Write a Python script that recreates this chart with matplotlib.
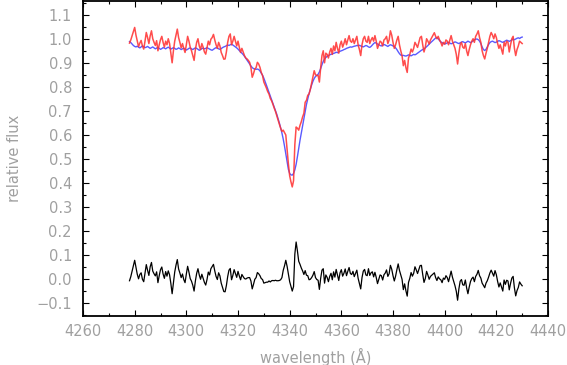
import numpy as np
import matplotlib
matplotlib.use("Agg")
import matplotlib.pyplot as plt
from matplotlib.ticker import MultipleLocator

# wavelength grid (Angstrom), 0.5 A sampling from 4278 to 4430
wave_start = 4278.0
wave_step = 0.5

# model spectrum (blue)
model_flux = [
    0.988, 0.984, 0.978, 0.972,
    0.968, 0.966, 0.969, 0.965, 0.962, 0.966, 0.970, 0.967, 0.963, 0.965,
    0.968, 0.964, 0.960, 0.963, 0.966, 0.962, 0.958, 0.961, 0.964, 0.960,
    0.956, 0.959, 0.963, 0.961, 0.958, 0.962, 0.965, 0.961, 0.957, 0.960,
    0.963, 0.960, 0.956, 0.958, 0.962, 0.959, 0.955, 0.958, 0.961, 0.957,
    0.953, 0.956, 0.960, 0.962, 0.958, 0.955, 0.959, 0.962, 0.960, 0.956,
    0.952, 0.955, 0.959, 0.961, 0.958, 0.960, 0.963, 0.960, 0.957, 0.954,
    0.952, 0.956, 0.960, 0.963, 0.961, 0.958, 0.956, 0.959, 0.963, 0.966,
    0.968, 0.971, 0.974, 0.972, 0.975, 0.977, 0.974, 0.970, 0.966, 0.962,
    0.957, 0.951, 0.945, 0.940, 0.934, 0.927, 0.919, 0.911, 0.903, 0.895,
    0.887, 0.880, 0.876, 0.874, 0.873, 0.874, 0.872, 0.866, 0.857, 0.848,
    0.836, 0.822, 0.807, 0.792, 0.777, 0.763, 0.748, 0.733, 0.718, 0.702,
    0.686, 0.668, 0.650, 0.630, 0.608, 0.583, 0.554, 0.521, 0.486, 0.457,
    0.440, 0.434, 0.433, 0.440, 0.455, 0.478, 0.510, 0.545, 0.578, 0.608,
    0.640, 0.670, 0.700, 0.727, 0.750, 0.772, 0.790, 0.808, 0.823, 0.835,
    0.843, 0.848, 0.852, 0.862, 0.876, 0.892, 0.906, 0.916, 0.922, 0.927,
    0.930, 0.933, 0.935, 0.937, 0.939, 0.941, 0.944, 0.942, 0.945, 0.948,
    0.950, 0.952, 0.955, 0.957, 0.960, 0.962, 0.964, 0.966, 0.965, 0.967,
    0.969, 0.970, 0.972, 0.971, 0.973, 0.970, 0.968, 0.966, 0.969, 0.972,
    0.970, 0.966, 0.964, 0.968, 0.974, 0.980, 0.984, 0.982, 0.978, 0.975,
    0.972, 0.970, 0.973, 0.976, 0.974, 0.971, 0.968, 0.972, 0.975, 0.973,
    0.970, 0.967, 0.962, 0.955, 0.946, 0.938, 0.932, 0.930, 0.931, 0.929,
    0.928, 0.930, 0.933, 0.931, 0.929, 0.932, 0.935, 0.933, 0.936, 0.940,
    0.944, 0.948, 0.952, 0.955, 0.958, 0.962, 0.967, 0.972, 0.978, 0.983,
    0.988, 0.993, 0.998, 1.003, 1.005, 1.000, 0.993, 0.987, 0.984, 0.980,
    0.978, 0.980, 0.983, 0.985, 0.982, 0.979, 0.981, 0.984, 0.987, 0.985,
    0.982, 0.980, 0.983, 0.986, 0.988, 0.985, 0.983, 0.986, 0.990, 0.987,
    0.984, 0.987, 0.991, 0.995, 0.998, 0.999, 0.996, 0.990, 0.980, 0.966,
    0.955, 0.951, 0.956, 0.966, 0.976, 0.984, 0.988, 0.990, 0.987, 0.984,
    0.986, 0.989, 0.992, 0.990, 0.987, 0.985, 0.988, 0.991, 0.994, 0.992,
    0.989, 0.992, 0.995, 0.998, 0.996, 0.999, 1.002, 1.004, 1.001, 1.005,
    1.007,
]

# observed spectrum (red)
obs_flux = [
    0.982, 0.995, 1.012, 1.030,
    1.047, 1.015, 0.990, 0.967, 0.982, 0.993, 0.970, 0.957, 0.990, 1.026,
    1.005, 0.980, 1.012, 1.033, 1.000, 0.985, 0.972, 0.992, 0.950, 0.975,
    0.996, 1.010, 0.985, 0.965, 0.990, 0.975, 1.000, 0.980, 0.940, 0.900,
    0.950, 0.990, 1.015, 1.040, 1.005, 0.985, 0.962, 0.980, 0.960, 0.943,
    0.975, 1.010, 0.990, 0.965, 0.950, 0.930, 0.910, 0.955, 0.985, 1.000,
    0.970, 0.955, 0.980, 0.965, 0.945, 0.936, 0.962, 0.990, 0.975, 0.998,
    1.005, 1.018, 0.995, 0.975, 0.960, 0.985, 0.970, 0.943, 0.930, 0.915,
    0.916, 0.945, 0.985, 1.010, 1.020, 0.975, 0.990, 1.010, 0.990, 0.970,
    0.990, 0.965, 0.943, 0.960, 0.945, 0.930, 0.920, 0.916, 0.910, 0.902,
    0.880, 0.840, 0.855, 0.874, 0.880, 0.902, 0.895, 0.881, 0.860, 0.847,
    0.820, 0.808, 0.795, 0.780, 0.770, 0.752, 0.742, 0.728, 0.712, 0.698,
    0.680, 0.662, 0.645, 0.628, 0.615, 0.620, 0.610, 0.600, 0.540, 0.480,
    0.430, 0.405, 0.384, 0.410, 0.560, 0.633, 0.628, 0.620, 0.640, 0.655,
    0.675, 0.690, 0.736, 0.744, 0.765, 0.770, 0.790, 0.815, 0.840, 0.867,
    0.850, 0.847, 0.848, 0.820, 0.880, 0.930, 0.950, 0.900, 0.940, 0.935,
    0.920, 0.945, 0.960, 0.935, 0.970, 0.950, 0.985, 0.960, 0.940, 0.975,
    0.990, 0.965, 0.980, 1.000, 0.975, 0.995, 1.013, 0.990, 0.985, 1.000,
    0.980, 0.995, 1.010, 0.975, 0.955, 0.930, 0.975, 1.000, 1.010, 0.990,
    0.985, 1.010, 0.980, 0.995, 1.005, 0.990, 1.013, 0.990, 0.960, 0.975,
    0.990, 0.985, 0.970, 0.995, 1.000, 1.010, 0.980, 0.995, 1.033, 1.015,
    0.985, 0.960, 0.975, 0.995, 1.010, 0.975, 0.950, 0.930, 0.888, 0.910,
    0.880, 0.860, 0.920, 0.935, 0.957, 0.945, 0.960, 0.985, 0.975, 0.964,
    0.985, 1.005, 1.010, 0.975, 0.945, 0.965, 1.000, 0.990, 0.978, 0.995,
    1.005, 1.015, 1.025, 1.010, 1.000, 1.010, 0.995, 0.985, 0.970, 0.985,
    0.978, 0.995, 0.990, 0.975, 0.995, 1.013, 0.990, 0.975, 0.960, 0.935,
    0.895, 0.940, 0.975, 0.985, 0.965, 0.960, 0.980, 0.950, 0.930, 0.955,
    0.975, 0.990, 1.000, 0.985, 1.010, 1.020, 1.033, 1.005, 0.985, 0.950,
    0.930, 0.916, 0.940, 0.960, 0.985, 1.010, 1.026, 1.015, 1.000, 1.020,
    1.005, 0.980, 0.960, 0.975, 0.955, 0.936, 0.985, 0.970, 0.990, 0.985,
    0.945, 0.975, 1.000, 1.010, 0.960, 0.930, 0.955, 0.970, 0.990, 0.985,
    0.980,
]

x_ticks = [4260, 4280, 4300, 4320, 4340, 4360, 4380, 4400, 4420, 4440]
y_ticks = [-0.1, 0.0, 0.1, 0.2, 0.3, 0.4, 0.5, 0.6, 0.7, 0.8, 0.9, 1.0, 1.1]

obs = np.array(obs_flux)
model = np.array(model_flux)
wave = wave_start + wave_step * np.arange(len(obs))
residual = obs - model  # observed minus model

grey = "#a0a0a0"
plt.rcParams["font.family"] = ["DejaVu Sans"]

fig = plt.figure(figsize=(5.67, 3.65), dpi=100)
ax = fig.add_axes([0.1464, 0.134, 0.8201, 0.862])

ax.plot(wave, model, color="#5a5aff", lw=1.0, zorder=2)
ax.plot(wave, obs, color="#ff3333", lw=1.1, alpha=0.88, zorder=3)
ax.plot(wave, residual, color="black", lw=0.9, zorder=3)

ax.set_xlim(4260, 4440)
ax.set_ylim(-0.153, 1.155)
ax.set_xticks(x_ticks)
ax.set_yticks(y_ticks)
ax.xaxis.set_minor_locator(MultipleLocator(10))
ax.yaxis.set_minor_locator(MultipleLocator(0.05))
ax.set_yticklabels([("\u2212%.1f" % abs(v)) if v < 0 else "%.1f" % v for v in y_ticks])

ax.tick_params(which="both", direction="in", top=True, right=True,
               colors="black", labelcolor=grey, labelsize=10.5)
ax.tick_params(which="major", length=4.5, width=0.8)
ax.tick_params(which="minor", length=2.3, width=0.8)
ax.tick_params(axis="y", pad=8)
ax.tick_params(axis="x", pad=6)
for s in ax.spines.values():
    s.set_linewidth(1.3)
    s.set_color("black")

ax.set_xlabel("wavelength (\u00c5)", color=grey, fontsize=10.5, labelpad=6)
ax.set_ylabel("relative flux", color=grey, fontsize=10.5, labelpad=10)

fig.savefig("out.png", dpi=100)
